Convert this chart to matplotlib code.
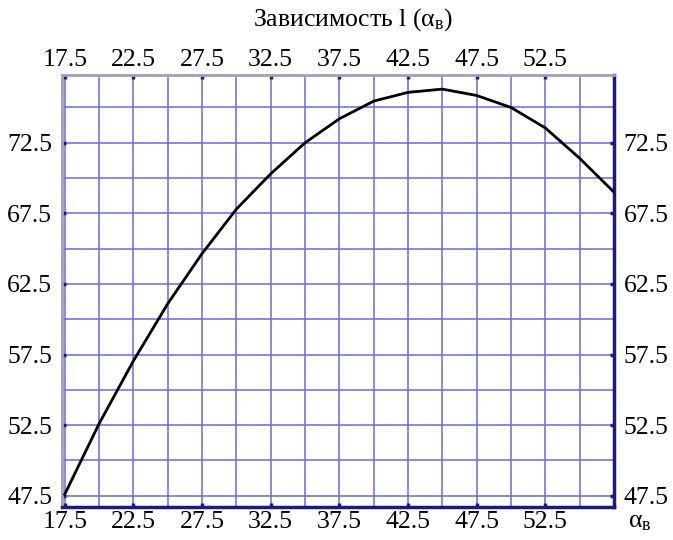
import numpy as np
import matplotlib
matplotlib.use("Agg")
import matplotlib.pyplot as plt

# Data (angle in degrees vs length l)
alpha_deg = [17.5, 20, 22.5, 25, 27.5, 30, 32.5, 35, 37.5, 40,
             42.5, 45, 47.5, 50, 52.5, 55, 57.5]
length_l = [47.6, 52.6, 57.05, 61.1, 64.65, 67.8, 70.3, 72.5, 74.2, 75.45,
            76.07, 76.3, 75.85, 75.0, 73.55, 71.4, 69.0]
x_ticks = [17.5, 22.5, 27.5, 32.5, 37.5, 42.5, 47.5, 52.5]
y_ticks = [47.5, 52.5, 57.5, 62.5, 67.5, 72.5]
x_grid = [17.5 + 2.5 * i for i in range(17)]
y_grid = [47.5 + 2.5 * i for i in range(13)]

plt.rcParams['font.family'] = ['Liberation Serif', 'DejaVu Serif']
plt.rcParams['mathtext.fontset'] = 'custom'
plt.rcParams['mathtext.rm'] = 'Liberation Serif'
plt.rcParams['mathtext.it'] = 'Liberation Serif'
plt.rcParams['mathtext.bf'] = 'Liberation Serif:bold'

fig = plt.figure(figsize=(6.73, 5.40), dpi=100)
ax = fig.add_axes([62/673, 1 - 507/540, (614-62)/673, (507-75)/540])

grid_color = '#6b6bd6'
for gx in x_grid:
    ax.axvline(gx, color=grid_color, lw=1.1, zorder=1)
for gy in y_grid:
    ax.axhline(gy, color=grid_color, lw=1.1, zorder=1)

ax.plot(alpha_deg, length_l, color='black', lw=2.0, zorder=3,
        solid_joinstyle='round')

ax.set_xlim(17.3, 57.5)
ax.set_ylim(46.7, 77.3)

ax.set_xticks(x_ticks)
ax.set_yticks(y_ticks)
ax.set_xticklabels([f"{v:.1f}" for v in x_ticks])
ax.set_yticklabels([f"{v:.1f}" for v in y_ticks])
ax.tick_params(axis='both', which='both', direction='in', length=3, width=2.5,
               color='#1a1a80', labelsize=18.5, pad=3,
               top=True, right=True, labeltop=True, labelright=True)
ax.tick_params(axis='y', which='both', pad=7)

for side in ['right', 'bottom']:
    ax.spines[side].set_color('#1a1a80')
    ax.spines[side].set_linewidth(2.5)
for side in ['left', 'top']:
    ax.spines[side].set_color('#a0a0b8')
    ax.spines[side].set_linewidth(2)

fig.text(353/673, 1 - 20/540, r'Зависимость l ($\alpha_{\mathrm{в}}$)',
         ha='center', va='center', fontsize=18.5)
fig.text(628/673, 1 - 522/540, r'$\alpha_{\mathrm{в}}$', ha='left', va='center', fontsize=18.5)

fig.savefig('out.png', dpi=100)
